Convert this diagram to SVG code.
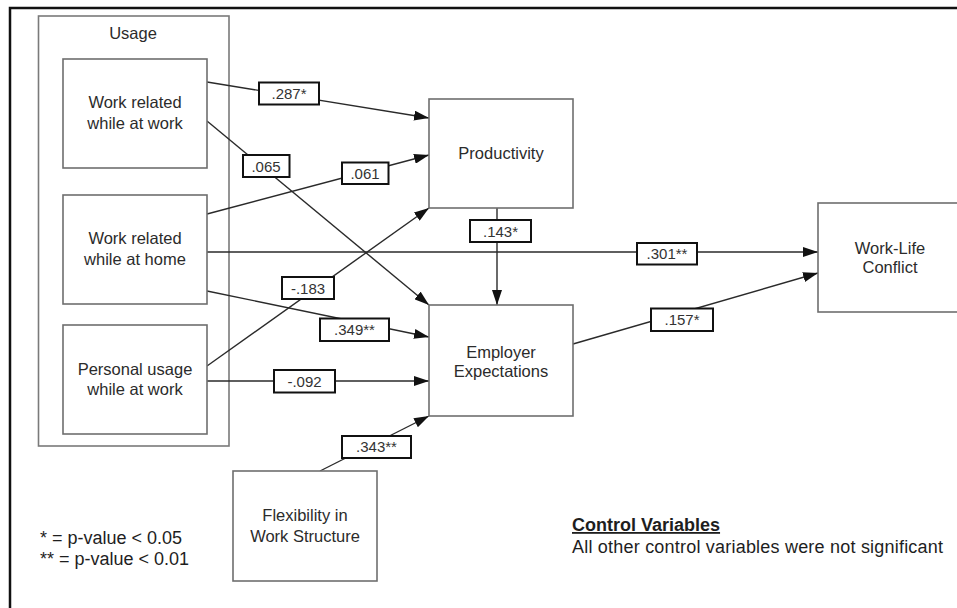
<svg xmlns="http://www.w3.org/2000/svg" width="957" height="608" viewBox="0 0 957 608">
<style>
.node{fill:#fff;stroke:#6e6e6e;stroke-width:1.6}
.grp{fill:none;stroke:#7a7a7a;stroke-width:1.6}
.nt{font-family:"Liberation Sans",Arial,sans-serif;font-size:16.5px;fill:#2b2b2b;text-anchor:middle}
.lb{fill:#fff;stroke:#111;stroke-width:2}
.lt{font-family:"Liberation Sans",Arial,sans-serif;font-size:15px;fill:#333;text-anchor:middle}
.edge{fill:none;stroke:#2a2a2a;stroke-width:1.4;marker-end:url(#ah)}
.leg{font-family:"Liberation Sans",Arial,sans-serif;font-size:18px;fill:#1e1e1e}
</style>
<defs>
<marker id="ah" markerUnits="userSpaceOnUse" markerWidth="15" markerHeight="10" refX="15" refY="5" orient="auto">
<path d="M0,0 L15,5 L0,10 z" fill="#111"/>
</marker>
</defs>
<rect x="0" y="0" width="957" height="608" fill="#fff"/>
<rect x="10" y="8" width="970" height="620" fill="none" stroke="#111" stroke-width="2.5"/>

<g id="usage">
<rect class="grp" x="38.5" y="16" width="190.5" height="430"/>
<text class="nt" x="133" y="39">Usage</text>
</g>

<g id="connectors">
<line class="edge" x1="207" y1="82" x2="429" y2="118"/>
<line class="edge" x1="207" y1="121" x2="429" y2="305"/>
<line class="edge" x1="207" y1="214" x2="429" y2="155"/>
<line class="edge" x1="207" y1="252" x2="818" y2="252"/>
<line class="edge" x1="207" y1="291" x2="429" y2="337"/>
<line class="edge" x1="207" y1="366" x2="429" y2="208"/>
<line class="edge" x1="207" y1="381" x2="429" y2="381"/>
<line class="edge" x1="320" y1="471" x2="429" y2="416"/>
<line class="edge" x1="497" y1="208" x2="497" y2="305"/>
<line class="edge" x1="573" y1="344" x2="818" y2="273"/>
<g id="labels">
<rect class="lb" x="259" y="82.5" width="60" height="22"/><text class="lt" x="289" y="99">.287*</text>
<rect class="lb" x="243" y="155" width="46.5" height="22"/><text class="lt" x="266" y="171.5">.065</text>
<rect class="lb" x="342" y="162.5" width="46.5" height="21.5"/><text class="lt" x="365" y="178.5">.061</text>
<rect class="lb" x="282" y="277" width="52" height="22"/><text class="lt" x="308" y="293.5">-.183</text>
<rect class="lb" x="320" y="318.5" width="69" height="22.5"/><text class="lt" x="354.5" y="335">.349**</text>
<rect class="lb" x="274" y="370" width="61" height="22.5"/><text class="lt" x="304.5" y="386.5">-.092</text>
<rect class="lb" x="342" y="436" width="69" height="22"/><text class="lt" x="376.5" y="452">.343**</text>
<rect class="lb" x="470" y="220" width="61" height="22"/><text class="lt" x="500.5" y="236.5">.143*</text>
<rect class="lb" x="637" y="243" width="60" height="21.5"/><text class="lt" x="667" y="259">.301**</text>
<rect class="lb" x="651" y="308.5" width="62" height="22.5"/><text class="lt" x="682" y="325">.157*</text>
</g>
</g>

<g id="wrw">
<rect class="node" x="63" y="59" width="144" height="109"/>
<text class="nt" x="135" y="108">Work related</text>
<text class="nt" x="135" y="128.5">while at work</text>
</g>
<g id="wrh">
<rect class="node" x="63" y="195" width="144" height="109"/>
<text class="nt" x="135" y="244">Work related</text>
<text class="nt" x="135" y="264.5">while at home</text>
</g>
<g id="puw">
<rect class="node" x="63" y="325" width="144" height="109"/>
<text class="nt" x="135" y="374.5">Personal usage</text>
<text class="nt" x="135" y="395">while at work</text>
</g>
<g id="prod">
<rect class="node" x="429" y="99" width="144" height="109"/>
<text class="nt" x="501" y="159">Productivity</text>
</g>
<g id="ee">
<rect class="node" x="429" y="305" width="144" height="111"/>
<text class="nt" x="501" y="357.5">Employer</text>
<text class="nt" x="501" y="377">Expectations</text>
</g>
<g id="wlc">
<rect class="node" x="818" y="203" width="150" height="109"/>
<text class="nt" x="890" y="254">Work-Life</text>
<text class="nt" x="890" y="273">Conflict</text>
</g>
<g id="flex">
<rect class="node" x="233" y="471" width="144" height="110"/>
<text class="nt" x="305" y="521">Flexibility in</text>
<text class="nt" x="305" y="542">Work Structure</text>
</g>

<g id="legend">
<text class="leg" x="40" y="544">* = p-value &lt; 0.05</text>
<text class="leg" x="40" y="565">** = p-value &lt; 0.01</text>
</g>
<g id="control">
<text class="leg" x="572" y="531" font-weight="bold" text-decoration="underline">Control Variables</text>
<text class="leg" x="572" y="553" textLength="371" lengthAdjust="spacing">All other control variables were not significant</text>
</g>
</svg>
